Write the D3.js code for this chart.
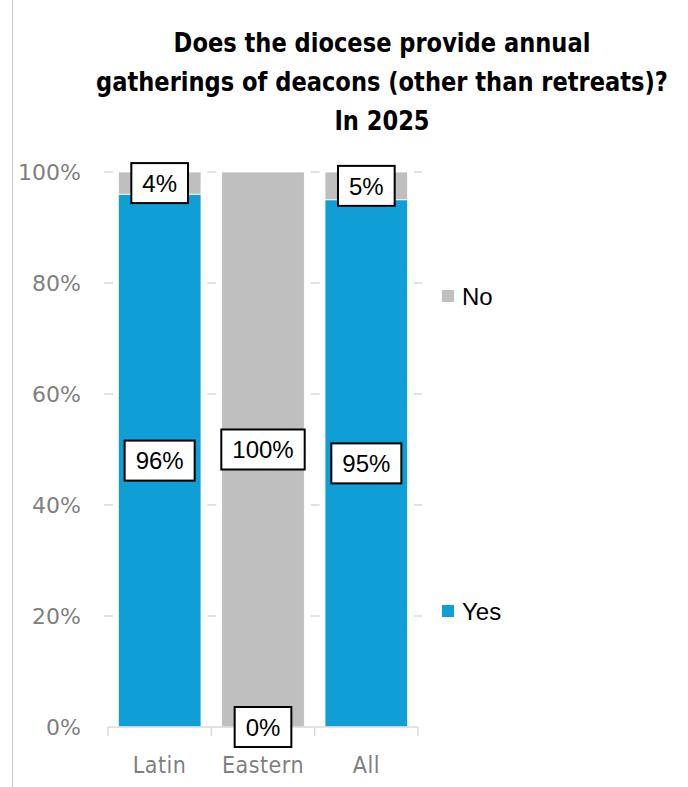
<!DOCTYPE html>
<html>
<head>
<meta charset="utf-8">
<script src="https://cdn.jsdelivr.net/npm/d3@7"></script>
<style>
  body { margin: 0; background: #fff; }
  svg { display: block; }
</style>
</head>
<body>
<div id="chart"></div>
<script>
// data
var categories = ["Latin", "Eastern", "All"];
var seriesNames = ["Yes", "No"];
var yesValues = [0.96, 0, 0.95];
var noValues = [0.04, 1.00, 0.05];
var yesLabels = ["96%", "0%", "95%"];
var noLabels = ["4%", "100%", "5%"];
var yTicks = [0, 0.2, 0.4, 0.6, 0.8, 1.0];
var titleLines = ["Does the diocese provide annual", "gatherings of deacons (other than retreats)?", "In 2025"];

var W = 688, H = 787;
var colors = {Yes: "#0f9ed5", No: "#bfbfbf"};

var svg = d3.select("#chart").append("svg")
    .attr("width", W)
    .attr("height", H);

// left frame line
svg.append("line")
    .attr("x1", 12.5).attr("x2", 12.5)
    .attr("y1", 0).attr("y2", H)
    .attr("stroke", "#c8c8c8")
    .attr("stroke-width", 1);

// title (squeezed a bit horizontally to look like the narrow original font)
svg.append("text")
    .attr("transform", "translate(382,0) scale(0.93,1)")
    .attr("text-anchor", "middle")
    .style("font-family", "'DejaVu Sans Condensed', sans-serif")
    .style("font-weight", "bold")
    .style("font-size", "27px")
    .attr("fill", "#000")
    .selectAll("tspan")
    .data(titleLines)
    .enter().append("tspan")
      .attr("x", 0)
      .attr("y", function (d, i) { return 52 + i * 39; })
      .text(function (d) { return d; });

var x = d3.scaleBand()
    .domain(categories)
    .range([108, 418])
    .paddingInner(0.2)
    .paddingOuter(0.1);

var y = d3.scaleLinear()
    .domain([0, 1])
    .range([727, 172]);

// tick positions between categories (for axis ticks and grid dashes)
var step = x.step();
var tickXs = [108].concat(categories.map(function (c) { return x(c) + x.bandwidth() + step * 0.1; }));

// gridlines (behind bars), drawn as short dashes around the category boundaries
svg.append("g")
    .selectAll("line")
    .data(yTicks.slice(1))
    .enter().append("line")
      .attr("x1", 104).attr("x2", 422)
      .attr("y1", function (d) { return y(d); })
      .attr("y2", function (d) { return y(d); })
      .attr("stroke", "#d9d9d9")
      .attr("stroke-width", 1.5)
      .attr("stroke-dasharray", "9," + (step - 9));

// y axis labels
svg.append("g")
    .selectAll("text")
    .data(yTicks)
    .enter().append("text")
      .attr("x", 81)
      .attr("y", function (d) { return y(d); })
      .attr("dy", "0.36em")
      .attr("text-anchor", "end")
      .style("font-family", "'DejaVu Sans', sans-serif")
      .style("font-size", "22px")
      .attr("fill", "#7f7f7f")
      .text(function (d) { return d3.format(".0%")(d); });

// stacked bars
var rows = categories.map(function (c, i) {
  return {cat: c, Yes: yesValues[i], No: noValues[i]};
});
var stack = d3.stack().keys(seriesNames);
var layers = stack(rows);

svg.append("g")
    .selectAll("g")
    .data(layers)
    .enter().append("g")
      .attr("fill", function (d) { return colors[d.key]; })
    .selectAll("rect")
    .data(function (d) { return d; })
    .enter().append("rect")
      .attr("x", function (d) { return x(d.data.cat); })
      .attr("width", x.bandwidth())
      .attr("y", function (d) { return y(d[1]); })
      .attr("height", function (d) { return y(d[0]) - y(d[1]); })
      .attr("stroke", "#fff")
      .attr("stroke-width", 0.8);

// x axis baseline and ticks
var axisG = svg.append("g").attr("stroke", "#d9d9d9").attr("stroke-width", 1.5);
axisG.append("line")
    .attr("x1", 108).attr("x2", 418)
    .attr("y1", y(0)).attr("y2", y(0));
axisG.selectAll(".tk")
    .data(tickXs)
    .enter().append("line")
      .attr("class", "tk")
      .attr("x1", function (d) { return d; })
      .attr("x2", function (d) { return d; })
      .attr("y1", y(0)).attr("y2", y(0) + 9);

// category labels
svg.append("g")
    .selectAll("text")
    .data(categories)
    .enter().append("text")
      .attr("x", function (d) { return x(d) + x.bandwidth() / 2; })
      .attr("y", 773)
      .attr("text-anchor", "middle")
      .style("font-family", "'DejaVu Sans Condensed', 'DejaVu Sans', sans-serif")
      .style("font-size", "23px")
      .style("letter-spacing", "0.5px")
      .attr("fill", "#7f7f7f")
      .text(function (d) { return d; });

// data labels in boxes
var labelData = [];
layers.forEach(function (layer) {
  var labs = layer.key === "Yes" ? yesLabels : noLabels;
  layer.forEach(function (d, i) {
    labelData.push({cat: d.data.cat, y: (y(d[0]) + y(d[1])) / 2, text: labs[i]});
  });
});

var labelG = svg.append("g")
    .selectAll("g")
    .data(labelData)
    .enter().append("g")
      .attr("transform", function (d) {
        return "translate(" + (x(d.cat) + x.bandwidth() / 2) + "," + d.y + ")";
      });

labelG.append("text")
    .attr("text-anchor", "middle")
    .attr("dy", "0.36em")
    .style("font-family", "'Liberation Sans', sans-serif")
    .style("font-size", "24px")
    .attr("fill", "#000")
    .text(function (d) { return d.text; });

labelG.each(function () {
  var g = d3.select(this);
  var bb = g.select("text").node().getBBox();
  g.insert("rect", "text")
    .attr("x", bb.x - 11)
    .attr("y", -20)
    .attr("width", bb.width + 22)
    .attr("height", 40)
    .attr("fill", "#fff")
    .attr("stroke", "#000")
    .attr("stroke-width", 2);
});

// legend
var legendY = {No: 296, Yes: 611};
var legend = svg.append("g")
    .selectAll("g")
    .data(["No", "Yes"])
    .enter().append("g")
      .attr("transform", function (d) { return "translate(442," + legendY[d] + ")"; });
legend.append("rect")
    .attr("x", 0).attr("y", -6)
    .attr("width", 12).attr("height", 12)
    .attr("fill", function (d) { return colors[d]; });
legend.append("text")
    .attr("x", 20)
    .attr("dy", "0.36em")
    .style("font-family", "'Liberation Sans', sans-serif")
    .style("font-size", "24px")
    .attr("fill", "#000")
    .text(function (d) { return d; });
</script>
</body>
</html>
